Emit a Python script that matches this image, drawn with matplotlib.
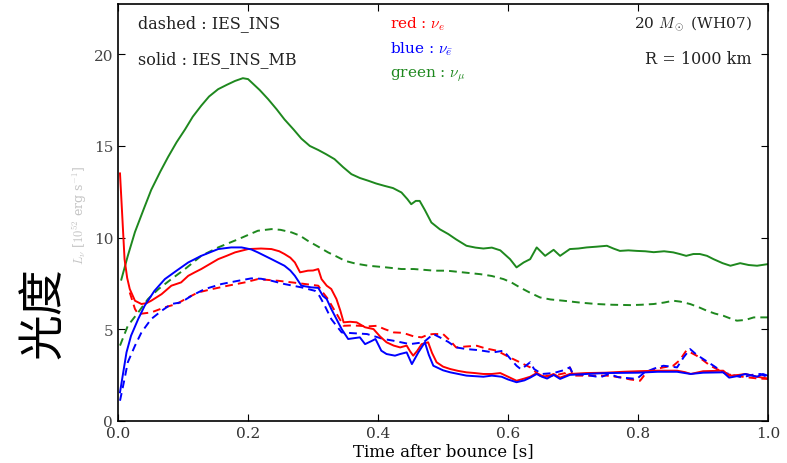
import numpy as np
import matplotlib
matplotlib.use('Agg')
import matplotlib.pyplot as plt

plt.rcParams['font.family'] = ['DejaVu Serif']
plt.rcParams['mathtext.fontset'] = 'cm'

# time after bounce [s] and luminosity [1e52 erg/s] for each run / flavour
t_green_mb = [0.005, 0.015, 0.026, 0.04, 0.051, 0.065, 0.077, 0.09, 0.103, 0.115, 0.128, 0.14, 0.154, 0.168,
              0.18, 0.192, 0.2, 0.206, 0.218, 0.231, 0.244, 0.256, 0.27, 0.282, 0.295, 0.308, 0.32, 0.333,
              0.346, 0.359, 0.372, 0.385, 0.397, 0.41, 0.423, 0.436, 0.445, 0.451, 0.458, 0.464, 0.472,
              0.482, 0.495, 0.508, 0.52, 0.536, 0.55, 0.562, 0.575, 0.588, 0.603, 0.613, 0.624, 0.634,
              0.644, 0.657, 0.67, 0.68, 0.695, 0.708, 0.721, 0.736, 0.752, 0.762, 0.772, 0.785, 0.798,
              0.811, 0.824, 0.84, 0.854, 0.864, 0.874, 0.885, 0.895, 0.906, 0.916, 0.93, 0.942, 0.957,
              0.97, 0.983, 1.0]
L_green_mb = [7.7, 9.0, 10.3, 11.6, 12.6, 13.6, 14.4, 15.2, 15.9, 16.6, 17.2, 17.7, 18.1, 18.35,
              18.55, 18.7, 18.65, 18.45, 18.05, 17.55, 17.0, 16.45, 15.9, 15.4, 15.0, 14.78, 14.55, 14.28,
              13.85, 13.46, 13.25, 13.1, 12.95, 12.82, 12.7, 12.46, 12.1, 11.82, 12.0, 12.0, 11.5,
              10.82, 10.45, 10.19, 9.9, 9.55, 9.45, 9.4, 9.45, 9.3, 8.82, 8.37, 8.64, 8.82,
              9.46, 9.0, 9.33, 9.0, 9.37, 9.4, 9.46, 9.5, 9.55, 9.4, 9.27, 9.3, 9.27,
              9.25, 9.2, 9.25, 9.19, 9.1, 9.0, 9.1, 9.1, 9.0, 8.82, 8.6, 8.46, 8.6,
              8.5, 8.46, 8.55]

t_green_ins = [0.003, 0.015, 0.031, 0.046, 0.062, 0.082, 0.103, 0.128, 0.154, 0.185, 0.215, 0.236, 0.25,
               0.267, 0.28, 0.292, 0.308, 0.323, 0.337, 0.349, 0.365, 0.385, 0.41, 0.436, 0.455, 0.487,
               0.506, 0.53, 0.557, 0.575, 0.593, 0.605, 0.618, 0.633, 0.649, 0.665, 0.685, 0.71, 0.736,
               0.76, 0.788, 0.805, 0.824, 0.84, 0.854, 0.865, 0.88, 0.893, 0.906, 0.918, 0.931, 0.942,
               0.952, 0.965, 0.978, 1.0]
L_green_ins = [4.1, 5.18, 5.91, 6.64, 7.18, 7.73, 8.28, 9.0, 9.46, 9.91, 10.37, 10.46, 10.42,
               10.28, 10.1, 9.82, 9.5, 9.19, 8.95, 8.73, 8.58, 8.46, 8.38, 8.28, 8.28, 8.19,
               8.19, 8.1, 8.0, 7.9, 7.73, 7.55, 7.28, 7.0, 6.73, 6.62, 6.55, 6.45, 6.37,
               6.33, 6.31, 6.33, 6.37, 6.45, 6.55, 6.5, 6.37, 6.2, 6.0, 5.85, 5.73, 5.58,
               5.46, 5.5, 5.64, 5.64]

t_red_mb = [0.003, 0.006, 0.01, 0.014, 0.018, 0.026, 0.036, 0.044, 0.051, 0.067, 0.082, 0.097, 0.108,
            0.118, 0.128, 0.141, 0.154, 0.167, 0.18, 0.2, 0.22, 0.236, 0.248, 0.256, 0.265, 0.272,
            0.28, 0.292, 0.3, 0.308, 0.313, 0.321, 0.328, 0.336, 0.342, 0.347, 0.357, 0.367, 0.38,
            0.393, 0.403, 0.413, 0.424, 0.434, 0.444, 0.449, 0.454, 0.46, 0.467, 0.477, 0.483, 0.49,
            0.5, 0.511, 0.523, 0.536, 0.549, 0.562, 0.575, 0.588, 0.6, 0.613, 0.625, 0.634, 0.644,
            0.652, 0.66, 0.67, 0.68, 0.695, 0.72, 0.75, 0.777, 0.8, 0.829, 0.86, 0.872, 0.881,
            0.9, 0.931, 0.94, 0.955, 0.965, 0.983, 1.0]
L_red_mb = [13.5, 11.5, 8.82, 7.8, 7.19, 6.55, 6.37, 6.42, 6.55, 6.91, 7.37, 7.55, 7.91,
            8.1, 8.28, 8.55, 8.82, 9.0, 9.19, 9.37, 9.4, 9.37, 9.25, 9.1, 8.9, 8.64,
            8.1, 8.19, 8.2, 8.28, 7.73, 7.37, 7.19, 6.64, 6.0, 5.37, 5.4, 5.37, 5.1,
            5.0, 4.6, 4.28, 4.1, 4.0, 4.1, 3.8, 3.55, 3.8, 4.18, 4.28, 3.7, 3.19,
            2.95, 2.82, 2.72, 2.64, 2.6, 2.55, 2.55, 2.6, 2.4, 2.18, 2.3, 2.4, 2.6,
            2.45, 2.4, 2.55, 2.35, 2.55, 2.6, 2.62, 2.67, 2.7, 2.73, 2.73, 2.65, 2.55,
            2.7, 2.73, 2.45, 2.5, 2.55, 2.4, 2.3]

t_blue_mb = [0.003, 0.008, 0.013, 0.02, 0.031, 0.041, 0.056, 0.072, 0.09, 0.108, 0.128, 0.154, 0.174,
             0.19, 0.205, 0.215, 0.236, 0.256, 0.265, 0.272, 0.282, 0.297, 0.308, 0.315, 0.321, 0.328,
             0.336, 0.344, 0.354, 0.362, 0.372, 0.38, 0.39, 0.396, 0.405, 0.413, 0.426, 0.434, 0.444,
             0.452, 0.462, 0.472, 0.478, 0.485, 0.5, 0.511, 0.536, 0.562, 0.575, 0.59, 0.6, 0.613,
             0.625, 0.634, 0.644, 0.652, 0.66, 0.67, 0.68, 0.695, 0.72, 0.75, 0.8, 0.83, 0.86,
             0.872, 0.881, 0.9, 0.931, 0.94, 0.955, 0.965, 0.983, 0.992, 1.0]
L_blue_mb = [1.55, 2.64, 3.73, 4.64, 5.55, 6.28, 7.09, 7.73, 8.19, 8.64, 9.0, 9.37, 9.46,
             9.46, 9.35, 9.19, 8.82, 8.46, 8.2, 7.91, 7.37, 7.28, 7.25, 6.82, 6.64, 6.1,
             5.55, 5.0, 4.46, 4.5, 4.55, 4.18, 4.35, 4.46, 3.82, 3.64, 3.55, 3.64, 3.73,
             3.09, 3.73, 4.28, 3.6, 3.0, 2.75, 2.64, 2.46, 2.4, 2.46, 2.4, 2.25, 2.1,
             2.2, 2.35, 2.55, 2.4, 2.3, 2.5, 2.28, 2.5, 2.55, 2.6, 2.62, 2.67, 2.67,
             2.6, 2.55, 2.62, 2.64, 2.35, 2.45, 2.55, 2.4, 2.55, 2.45]

t_red_ins = [0.018, 0.026, 0.031, 0.051, 0.072, 0.09, 0.108, 0.123, 0.144, 0.169, 0.195, 0.215, 0.246,
             0.277, 0.308, 0.315, 0.323, 0.33, 0.338, 0.347, 0.36, 0.372, 0.385, 0.398, 0.41, 0.424,
             0.436, 0.444, 0.455, 0.467, 0.477, 0.485, 0.5, 0.51, 0.52, 0.535, 0.552, 0.565, 0.583,
             0.6, 0.618, 0.634, 0.649, 0.67, 0.688, 0.695, 0.7, 0.73, 0.752, 0.772, 0.788, 0.803,
             0.813, 0.825, 0.839, 0.854, 0.864, 0.874, 0.882, 0.89, 0.9, 0.911, 0.925, 0.936, 0.95,
             0.967, 0.985, 1.0]
L_red_ins = [7.0, 6.1, 5.82, 5.91, 6.19, 6.37, 6.73, 7.0, 7.18, 7.37, 7.55, 7.73, 7.64,
             7.51, 7.37, 7.0, 6.64, 6.2, 5.73, 5.18, 5.2, 5.18, 5.15, 5.18, 5.0, 4.82,
             4.8, 4.73, 4.6, 4.55, 4.7, 4.73, 4.73, 4.4, 4.0, 4.05, 4.09, 3.95, 3.82,
             3.5, 3.19, 2.91, 2.46, 2.46, 2.6, 2.91, 2.46, 2.46, 2.46, 2.37, 2.25, 2.18,
             2.64, 2.8, 2.91, 3.0, 3.3, 3.82, 3.7, 3.55, 3.3, 3.0, 2.75, 2.55, 2.45,
             2.37, 2.3, 2.28]

t_blue_ins = [0.003, 0.01, 0.015, 0.026, 0.036, 0.051, 0.067, 0.082, 0.097, 0.113, 0.133, 0.159, 0.185,
              0.205, 0.22, 0.236, 0.256, 0.282, 0.303, 0.31, 0.318, 0.328, 0.336, 0.344, 0.36, 0.383,
              0.408, 0.423, 0.449, 0.47, 0.485, 0.495, 0.508, 0.52, 0.536, 0.555, 0.577, 0.593, 0.603,
              0.613, 0.62, 0.634, 0.64, 0.652, 0.67, 0.685, 0.695, 0.7, 0.72, 0.742, 0.755, 0.77,
              0.798, 0.81, 0.825, 0.839, 0.86, 0.87, 0.88, 0.89, 0.9, 0.916, 0.931, 0.95, 0.96,
              0.975, 0.988, 1.0]
L_blue_ins = [1.09, 2.28, 3.19, 4.09, 4.82, 5.55, 6.0, 6.37, 6.46, 6.82, 7.18, 7.46, 7.64,
              7.77, 7.75, 7.64, 7.46, 7.28, 7.09, 6.8, 6.28, 5.55, 5.18, 4.82, 4.78, 4.73,
              4.46, 4.37, 4.18, 4.28, 4.73, 4.55, 4.3, 4.0, 3.91, 3.85, 3.73, 3.82, 3.4,
              3.0, 2.8, 3.19, 2.82, 2.55, 2.6, 2.75, 2.91, 2.55, 2.5, 2.37, 2.55, 2.37,
              2.28, 2.64, 2.85, 3.0, 2.91, 3.46, 3.91, 3.6, 3.37, 3.0, 2.64, 2.45, 2.37,
              2.5, 2.55, 2.37]

fig = plt.figure(figsize=(7.87, 4.64), dpi=100)
ax = fig.add_axes([0.150, 0.0912, 0.826, 0.898])

green = '#1e881e'
dash = (4, 2.6)
ax.plot(t_green_ins, L_green_ins, color=green, lw=1.4, ls='--', dashes=dash)
ax.plot(t_red_ins, L_red_ins, color='red', lw=1.4, ls='--', dashes=dash)
ax.plot(t_blue_ins, L_blue_ins, color='blue', lw=1.4, ls='--', dashes=dash)
ax.plot(t_green_mb, L_green_mb, color=green, lw=1.4)
ax.plot(t_red_mb, L_red_mb, color='red', lw=1.4)
ax.plot(t_blue_mb, L_blue_mb, color='blue', lw=1.4)

ax.set_xlim(0, 1.0)
ax.set_ylim(0, 22.75)
ax.set_xticks(np.arange(0, 1.01, 0.2))
ax.set_yticks([0, 5, 10, 15, 20])
ax.tick_params(direction='in', top=True, right=True, length=5, labelsize=11, colors='black')
ax.tick_params(axis='y', labelcolor='#444444')
ax.tick_params(axis='x', labelcolor='#333333')
for s in ax.spines.values():
    s.set_linewidth(1.2)

ax.set_xlabel('Time after bounce [s]', fontsize=12, labelpad=2)

# annotations inside the frame
ax.text(0.03, 0.955, 'dashed : IES_INS', transform=ax.transAxes, fontsize=11.5, va='center', color='#222222')
ax.text(0.03, 0.87, 'solid : IES_INS_MB', transform=ax.transAxes, fontsize=11.5, va='center', color='#222222')
ax.text(0.418, 0.955, r'red : $\nu_e$', transform=ax.transAxes, fontsize=11, va='center', color='red')
ax.text(0.418, 0.895, r'blue : $\nu_{\bar{e}}$', transform=ax.transAxes, fontsize=11, va='center', color='blue')
ax.text(0.418, 0.83, r'green : $\nu_\mu$', transform=ax.transAxes, fontsize=11, va='center', color=green)
ax.text(0.975, 0.955, r'20 $M_\odot$ (WH07)', transform=ax.transAxes, fontsize=11, va='center',
        ha='right', color='#222222')
ax.text(0.975, 0.87, 'R = 1000 km', transform=ax.transAxes, fontsize=11.5, va='center', ha='right',
        color='#222222')

# faint original axis label and the large CJK label
fig.text(80 / 787, 1 - 215 / 464, r'$L_\nu$ [$10^{52}$ erg s$^{-1}$]', rotation=90, fontsize=9,
         color='#c4c4c4', ha='center', va='center')
fig.text(43 / 787, 1 - 313 / 464, '光度', rotation=90, fontsize=33, ha='center', va='center',
         family=['Noto Sans CJK SC', 'DejaVu Sans'])

fig.savefig('out.png', dpi=100)
